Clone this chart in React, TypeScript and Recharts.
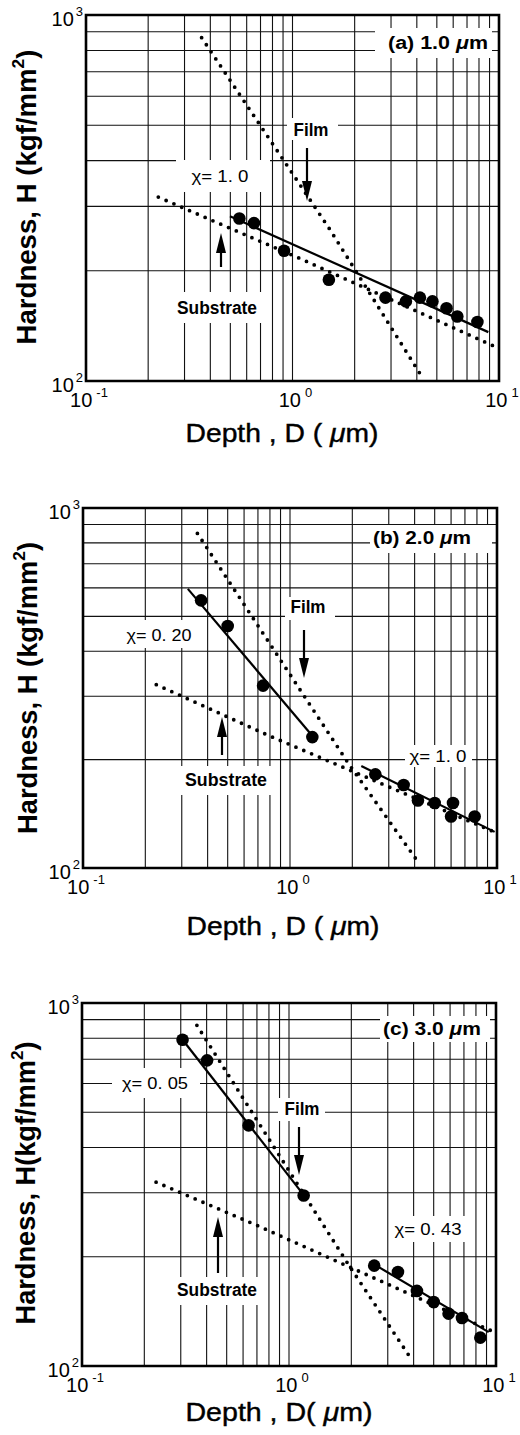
import React from 'react';
import { ComposedChart, Line, Scatter, XAxis, YAxis, CartesianGrid, ReferenceArea } from 'recharts';

const FONT = '"Liberation Sans", Arial, Helvetica, sans-serif';

const depthTicks = [0.1, 0.2, 0.3, 0.4, 0.5, 0.6, 0.7, 0.8, 0.9, 1, 2, 3, 4, 5, 6, 7, 8, 9, 10];
const hardnessTicks = [100, 200, 300, 400, 500, 600, 700, 800, 900, 1000];

type Pt = { x: number; y: number };

// (a) 1.0 um film
const aMeasured: Pt[] = [
  { x: 0.553, y: 278 }, { x: 0.651, y: 270 }, { x: 0.91, y: 227 }, { x: 1.5, y: 189 },
  { x: 2.82, y: 169 }, { x: 3.54, y: 165 }, { x: 4.14, y: 169 }, { x: 4.76, y: 165 },
  { x: 5.57, y: 158 }, { x: 6.28, y: 150 }, { x: 7.86, y: 145 },
];
const aFit: Pt[] = [{ x: 0.498, y: 282 }, { x: 8.88, y: 136 }];
const aFilm: Pt[] = [{ x: 0.363, y: 867 }, { x: 1.52, y: 259 }, { x: 4.22, y: 103 }];
const aSubstrate: Pt[] = [{ x: 0.224, y: 318 }, { x: 1.11, y: 215 }, { x: 9.32, y: 125 }];

// (b) 2.0 um film
const bMeasured: Pt[] = [
  { x: 0.372, y: 554 }, { x: 0.5, y: 470 }, { x: 0.741, y: 321 }, { x: 1.282, y: 231 },
  { x: 2.584, y: 182 }, { x: 3.54, y: 170 }, { x: 4.15, y: 154 }, { x: 5.0, y: 151.5 },
  { x: 6.13, y: 151.5 }, { x: 6.0, y: 139 }, { x: 7.8, y: 139 },
];
const bFitLow: Pt[] = [{ x: 0.321, y: 596 }, { x: 1.29, y: 232 }];
const bFitHigh: Pt[] = [{ x: 2.21, y: 192 }, { x: 9.74, y: 126 }];
const bFilm: Pt[] = [{ x: 0.357, y: 850 }, { x: 1.906, y: 196 }, { x: 4.08, y: 105.5 }];
const bSubstrate: Pt[] = [{ x: 0.226, y: 323 }, { x: 0.78, y: 234 }, { x: 9.57, y: 126.4 }];

// (c) 3.0 um film
const cMeasured: Pt[] = [
  { x: 0.306, y: 792 }, { x: 0.402, y: 695 }, { x: 0.638, y: 460 }, { x: 1.177, y: 295 },
  { x: 2.58, y: 189 }, { x: 3.36, y: 181.5 }, { x: 4.15, y: 161 }, { x: 5.0, y: 150 },
  { x: 5.9, y: 139.4 }, { x: 6.85, y: 135.6 }, { x: 8.4, y: 119.7 },
];
const cFitLow: Pt[] = [{ x: 0.299, y: 806 }, { x: 1.199, y: 292 }];
const cFitHigh: Pt[] = [{ x: 2.52, y: 192 }, { x: 9.22, y: 124 }];
const cFilm: Pt[] = [{ x: 0.359, y: 868 }, { x: 1.94, y: 190 }, { x: 3.886, y: 104.8 }];
const cSubstrate: Pt[] = [{ x: 0.228, y: 321 }, { x: 0.7, y: 244 }, { x: 9.39, y: 125.4 }];

const panels = [
  { id: 'a', plotTop: 15, plotBottom: 381, plotLeft: 86, plotRight: 499, measured: aMeasured, fits: [aFit], film: aFilm, substrate: aSubstrate },
  { id: 'b', plotTop: 508, plotBottom: 868, plotLeft: 83, plotRight: 497, measured: bMeasured, fits: [bFitLow, bFitHigh], film: bFilm, substrate: bSubstrate },
  { id: 'c', plotTop: 1003, plotBottom: 1366, plotLeft: 82, plotRight: 496, measured: cMeasured, fits: [cFitLow, cFitHigh], film: cFilm, substrate: cSubstrate },
];

const isDecade = (v: number) => Math.abs(Math.log10(v) - Math.round(Math.log10(v))) < 1e-6;

const DepthTick = ({ x, y, payload }: any) => {
  if (!isDecade(payload.value)) return null;
  return (
    <text x={x + 3} y={y + 19} textAnchor="middle" dominantBaseline="central" fontSize={20} fontFamily={FONT} fill="#000">
      10
      <tspan dx={4} dy={-8} fontSize={13}>{Math.round(Math.log10(payload.value))}</tspan>
    </text>
  );
};

const HardnessTick = ({ x, y, payload }: any) => {
  if (!isDecade(payload.value)) return null;
  return (
    <text x={x - 3} y={y + 4} textAnchor="end" dominantBaseline="central" fontSize={20} fontFamily={FONT} fill="#000">
      10
      <tspan dx={2} dy={-8} fontSize={13}>{Math.round(Math.log10(payload.value))}</tspan>
    </text>
  );
};

const Dot = (p: any) => <circle cx={p.cx} cy={p.cy} r={6.3} fill="#000" />;

const Panel = ({ p }: any) => {
  const plotH = p.plotBottom - p.plotTop;
  return (
    <div style={{ position: 'absolute', left: 0, top: p.plotTop - 15 }}>
      <ComposedChart width={520} height={15 + plotH + 40} margin={{ top: 15, right: 520 - p.plotRight, left: 0, bottom: 0 }}>
        <CartesianGrid stroke="#111" strokeWidth={1.1} />
        <XAxis dataKey="x" type="number" scale="log" domain={[0.1, 10]} ticks={depthTicks} interval={0}
          allowDataOverflow tick={<DepthTick />} tickLine={false} axisLine={false} tickSize={0} tickMargin={0} height={40} />
        <YAxis dataKey="y" type="number" scale="log" domain={[100, 1000]} ticks={hardnessTicks} interval={0}
          allowDataOverflow tick={<HardnessTick />} tickLine={false} axisLine={false} tickSize={0} tickMargin={0} width={p.plotLeft} />
        <ReferenceArea x1={0.1} x2={10} y1={100} y2={1000} fill="none" fillOpacity={0} stroke="#000" strokeWidth={2.6} />
        <Line data={p.film} dataKey="y" stroke="#000" strokeWidth={3.8} strokeDasharray="0 8.5" strokeLinecap="round"
          dot={false} activeDot={false} isAnimationActive={false} type="linear" />
        <Line data={p.substrate} dataKey="y" stroke="#000" strokeWidth={3.8} strokeDasharray="0 8.5" strokeLinecap="round"
          dot={false} activeDot={false} isAnimationActive={false} type="linear" />
        {p.fits.map((f: Pt[], i: number) => (
          <Line key={i} data={f} dataKey="y" stroke="#000" strokeWidth={2.2} dot={false} activeDot={false}
            isAnimationActive={false} type="linear" />
        ))}
        <Scatter data={p.measured} dataKey="y" shape={<Dot />} isAnimationActive={false} />
      </ComposedChart>
    </div>
  );
};

// annotation layout (page pixels): white box, text centre, text width
const labels = [
  { box: [375, 28, 492, 58], cx: 438, cy: 43, w: 100, size: 18, bold: true, text: '(a) 1.0 ', mu: true },
  { box: [287, 118, 338, 140], cx: 311, cy: 130, w: 35, size: 18, bold: true, text: 'Film' },
  { box: [176, 160, 270, 192], cx: 220, cy: 176, w: 57, size: 17, bold: false, text: 'χ= 1. 0' },
  { box: [172, 292, 262, 323], cx: 217, cy: 308, w: 80, size: 18, bold: true, text: 'Substrate' },

  { box: [370, 525, 492, 553], cx: 422, cy: 538, w: 98, size: 18, bold: true, text: '(b) 2.0 ', mu: true },
  { box: [285, 597, 335, 620], cx: 308, cy: 607, w: 35, size: 18, bold: true, text: 'Film' },
  { box: [120, 620, 198, 648], cx: 159, cy: 635, w: 65, size: 17, bold: false, text: 'χ= 0. 20' },
  { box: [180, 766, 272, 795], cx: 226, cy: 780, w: 82, size: 18, bold: true, text: 'Substrate' },
  { box: [405, 745, 472, 767], cx: 438, cy: 756, w: 57, size: 17, bold: false, text: 'χ= 1. 0' },

  { box: [380, 1016, 490, 1042], cx: 432, cy: 1029, w: 98, size: 18, bold: true, text: '(c) 3.0 ', mu: true },
  { box: [112, 1068, 200, 1098], cx: 155, cy: 1083, w: 66, size: 17, bold: false, text: 'χ= 0. 05' },
  { box: [278, 1098, 325, 1121], cx: 302, cy: 1109, w: 35, size: 18, bold: true, text: 'Film' },
  { box: [390, 1216, 468, 1242], cx: 428, cy: 1229, w: 67, size: 17, bold: false, text: 'χ= 0. 43' },
  { box: [172, 1277, 262, 1305], cx: 217, cy: 1290, w: 80, size: 18, bold: true, text: 'Substrate' },
];

const arrows = [
  { x: 307, from: 148, to: 201 }, { x: 221, from: 267, to: 233 },
  { x: 304, from: 630, to: 678 }, { x: 222, from: 755, to: 717 },
  { x: 299, from: 1127, to: 1175 }, { x: 218, from: 1273, to: 1217 },
];

const yTitles = [
  { cx: 27, cy: 197, w: 295, text: 'Hardness, H (kgf/mm' },
  { cx: 28, cy: 688, w: 292, text: 'Hardness, H (kgf/mm' },
  { cx: 26, cy: 1183, w: 283, text: 'Hardness, H(kgf/mm' },
];
const xTitles = [
  { cx: 282, cy: 433, w: 193, pre: 'Depth , D ( ' },
  { cx: 283, cy: 926, w: 193, pre: 'Depth , D ( ' },
  { cx: 279, cy: 1412, w: 187, pre: 'Depth , D( ' },
];

const Overlay = () => (
  <svg width={520} height={1435} style={{ position: 'absolute', left: 0, top: 0, pointerEvents: 'none' }} fontFamily={FONT}>
    {labels.map((l, i) => (
      <g key={i}>
        <rect x={l.box[0]} y={l.box[1]} width={l.box[2] - l.box[0]} height={l.box[3] - l.box[1]} fill="#fff" />
        <text x={l.cx} y={l.cy} textAnchor="middle" dominantBaseline="central" fontSize={l.size}
          fontWeight={l.bold ? 700 : 400} textLength={l.w} lengthAdjust="spacingAndGlyphs" fill="#000">
          {l.text}
          {l.mu && <tspan fontStyle="italic">μ</tspan>}
          {l.mu && <tspan>m</tspan>}
        </text>
      </g>
    ))}
    {arrows.map((a, i) => {
      const dir = a.to > a.from ? 1 : -1;
      const base = a.to - dir * 20;
      return (
        <g key={i}>
          <line x1={a.x} y1={a.from} x2={a.x} y2={base} stroke="#000" strokeWidth={2.2} />
          <polygon points={`${a.x - 5},${base} ${a.x + 5},${base} ${a.x},${a.to}`} fill="#000" />
        </g>
      );
    })}
    {yTitles.map((t, i) => (
      <text key={i} x={t.cx} y={t.cy} transform={`rotate(-90 ${t.cx} ${t.cy})`} textAnchor="middle" dominantBaseline="central"
        fontSize={27} fontWeight={700} textLength={t.w} lengthAdjust="spacingAndGlyphs" fill="#000">
        {t.text}
        <tspan fontSize={17} dy={-9}>2</tspan>
        <tspan dy={9}>)</tspan>
      </text>
    ))}
    {xTitles.map((t, i) => (
      <text key={i} x={t.cx} y={t.cy} textAnchor="middle" dominantBaseline="central" fontSize={25}
        textLength={t.w} lengthAdjust="spacingAndGlyphs" fill="#000" stroke="#000" strokeWidth={0.4}>
        {t.pre}
        <tspan fontStyle="italic">μ</tspan>m)
      </text>
    ))}
  </svg>
);

export default function App() {
  return (
    <div style={{ position: 'absolute', left: 0, top: 0, width: 520, height: 1435, background: '#fff', overflow: 'hidden' }}>
      {panels.map((p) => (
        <Panel key={p.id} p={p} />
      ))}
      <Overlay />
    </div>
  );
}
